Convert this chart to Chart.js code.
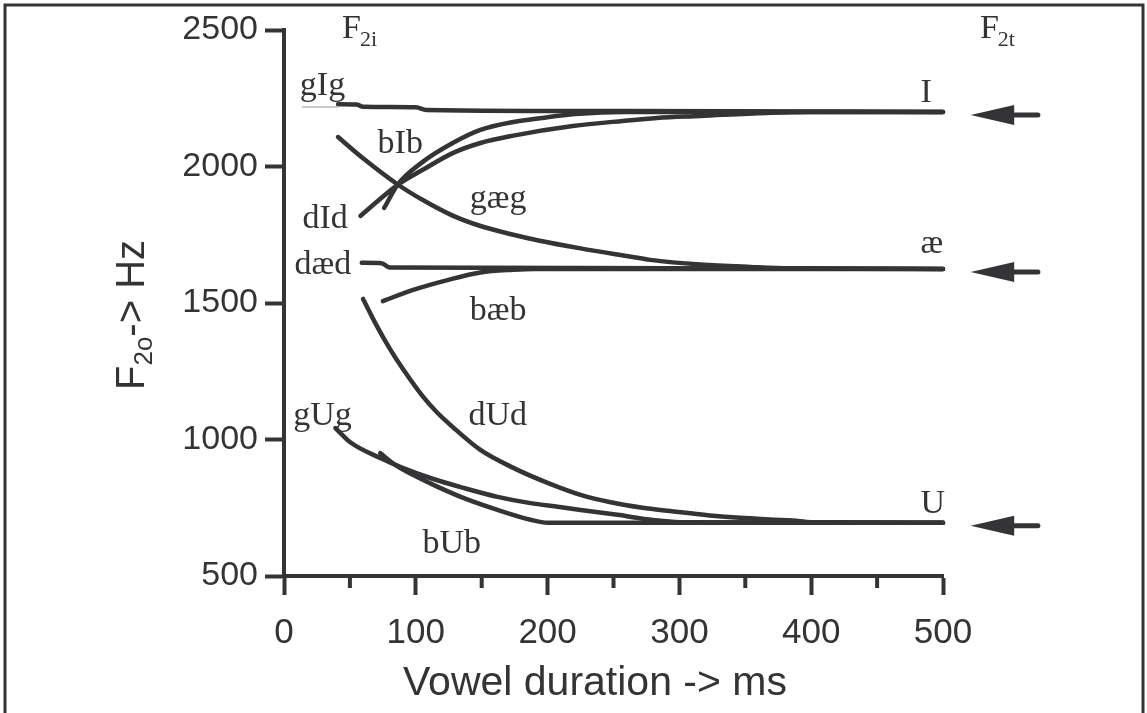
<!DOCTYPE html>
<html>
<head>
<meta charset="utf-8">
<script src="https://cdn.jsdelivr.net/npm/chart.js@4.4.1/dist/chart.umd.min.js"></script>
<style>
  html, body { margin: 0; padding: 0; background: #fff; }
  #wrap { width: 1147px; height: 713px; }
</style>
</head>
<body>
<div id="wrap"><canvas id="grafico" width="1147" height="713"></canvas></div>
<script>
// ===== DATA (ms -> Hz) =====
const xTicks = [0, 100, 200, 300, 400, 500];
const yTicks = [500, 1000, 1500, 2000, 2500];
const minorTicks = [50, 150, 250, 350, 450];
const targets = [2200, 1625, 695]; // F2t of I, æ, U

const gIgLeadMs = [14, 41];
const gIgLeadHz = [2218, 2218];
const gIgMs = [41, 55, 60, 100, 108, 260, 500];
const gIgHz = [2228, 2227, 2219, 2217, 2207, 2203, 2200];
const bIbMs = [76, 86, 105, 128, 149, 174, 196, 221, 259, 500];
const bIbHz = [1848, 1932, 2016, 2086, 2134, 2163, 2178, 2192, 2200, 2200];
const dIdMs = [58, 86, 105, 128, 149, 174, 219, 257, 283, 316, 366, 400, 500];
const dIdHz = [1819, 1932, 1987, 2049, 2086, 2113, 2148, 2167, 2178, 2185, 2196, 2200, 2200];
const gaegMs = [41, 60, 86, 105, 128, 149, 174, 194, 225, 260, 278, 316, 354, 384, 500];
const gaegHz = [2108, 2030, 1935, 1878, 1820, 1782, 1750, 1728, 1700, 1672, 1658, 1641, 1632, 1627, 1625];
const daedMs = [59, 74, 80, 500];
const daedHz = [1647, 1646, 1630, 1625];
const baebMs = [75, 98, 124, 149, 174, 190, 500];
const baebHz = [1507, 1548, 1584, 1612, 1622, 1625, 1625];
const dUdMs = [60, 70, 80, 90, 105, 116, 128, 149, 174, 200, 225, 247, 272, 293, 323, 346, 386, 400, 500];
const dUdHz = [1515, 1420, 1335, 1260, 1160, 1100, 1046, 962, 896, 841, 797, 771, 750, 738, 722, 713, 703, 697, 695];
const gUgMs = [39, 50, 73, 90, 111, 136, 162, 187, 209, 225, 253, 280, 300, 500];
const gUgHz = [1042, 991, 932, 896, 859, 823, 790, 767, 753, 742, 724, 705, 697, 695];
const bUbMs = [73, 85, 100, 115, 136, 162, 187, 200, 500];
const bUbHz = [950, 905, 865, 830, 786, 742, 706, 695, 695];

// label anchors (left, baseline) in ms / Hz
const labelText = ["gIg", "bIb", "dId", "gæg", "dæd", "bæb", "gUg", "dUd", "bUb", "I", "æ", "U"];
const labelMs = [12, 71, 14, 141, 8, 141, 7, 140, 105, 483, 483, 483];
const labelHz = [2262, 2050, 1775, 1848, 1606, 1438, 1053, 1053, 584, 2236, 1683, 731];

const ink = "#343436";

function pares(ms, hz) {
  return ms.map((v, i) => ({ x: v, y: hz[i] }));
}

function serie(nome, ms, hz, cor, largura) {
  return {
    label: nome,
    data: pares(ms, hz),
    borderColor: cor || ink,
    borderWidth: largura || 4.5,
    borderCapStyle: "round",
    borderJoinStyle: "round",
    pointRadius: 0,
    cubicInterpolationMode: "monotone",
    fill: false,
    clip: false
  };
}

// ===== EXTRA DRAWING (frame, minor ticks, arrows, labels, titles) =====
const extras = {
  id: "extras",
  beforeDraw(chart) {
    const c = chart.ctx;
    c.save();
    c.strokeStyle = ink;
    c.lineWidth = 3;
    c.beginPath();
    c.moveTo(5, 720); c.lineTo(5, 5); c.lineTo(1143, 5); c.lineTo(1143, 720);
    c.stroke();
    c.restore();
  },
  afterDraw(chart) {
    const c = chart.ctx, x = chart.scales.x, y = chart.scales.y;
    c.save();
    c.strokeStyle = ink;
    c.fillStyle = ink;

    // minor ticks
    c.lineWidth = 4;
    minorTicks.forEach(v => {
      const px = x.getPixelForValue(v);
      c.beginPath();
      c.moveTo(px, y.bottom);
      c.lineTo(px, y.bottom + 12);
      c.stroke();
    });

    // arrows pointing at the targets
    const tip = x.getPixelForValue(521), base = x.getPixelForValue(554), tail = x.getPixelForValue(572);
    targets.forEach(t => {
      const py = y.getPixelForValue(t) + 3;
      c.lineWidth = 5;
      c.lineCap = "round";
      c.beginPath();
      c.moveTo(base - 4, py);
      c.lineTo(tail, py);
      c.stroke();
      c.beginPath();
      c.moveTo(tip, py);
      c.lineTo(base, py - 10);
      c.lineTo(base, py + 10);
      c.closePath();
      c.fill();
    });

    // curve labels
    c.font = "34px 'Liberation Serif'";
    c.textAlign = "left";
    c.textBaseline = "alphabetic";
    labelText.forEach((t, i) => {
      c.fillText(t, x.getPixelForValue(labelMs[i]), y.getPixelForValue(labelHz[i]));
    });

    // F2i / F2t
    [["2i", 44], ["2t", 528]].forEach(([sub, ms]) => {
      const px = x.getPixelForValue(ms), py = y.getPixelForValue(2472);
      c.font = "34px 'Liberation Serif'";
      c.fillText("F", px, py);
      const w = c.measureText("F").width;
      c.font = "22px 'Liberation Serif'";
      c.fillText(sub, px + w - 1, py + 8);
    });

    // axis titles
    c.font = "41px 'Liberation Sans'";
    c.textAlign = "center";
    c.fillText("Vowel duration -> ms", 595, 695);

    c.translate(144, 315);
    c.rotate(-Math.PI / 2);
    c.textAlign = "left";
    c.font = "40px 'Liberation Sans'";
    const wF = c.measureText("F").width;
    const wRest = c.measureText("-> Hz").width;
    c.font = "26px 'Liberation Sans'";
    const wSub = c.measureText("2o").width;
    const start = -(wF + wSub + wRest) / 2;
    c.font = "40px 'Liberation Sans'";
    c.fillText("F", start, 0);
    c.font = "26px 'Liberation Sans'";
    c.fillText("2o", start + wF, 8);
    c.font = "40px 'Liberation Sans'";
    c.fillText("-> Hz", start + wF + wSub, 0);
    c.restore();
  }
};

// ===== CHART =====
new Chart(document.getElementById("grafico"), {
  type: "line",
  data: {
    datasets: [
      serie("gIg lead", gIgLeadMs, gIgLeadHz, "#b8b8b8", 1.5),
      serie("gIg", gIgMs, gIgHz),
      serie("bIb", bIbMs, bIbHz),
      serie("dId", dIdMs, dIdHz),
      serie("gæg", gaegMs, gaegHz),
      serie("dæd", daedMs, daedHz),
      serie("bæb", baebMs, baebHz),
      serie("dUd", dUdMs, dUdHz),
      serie("gUg", gUgMs, gUgHz),
      serie("bUb", bUbMs, bUbHz)
    ]
  },
  options: {
    responsive: false,
    animation: false,
    devicePixelRatio: 1,
    layout: { padding: { top: 30, right: 204, bottom: 0, left: 0 } },
    plugins: { legend: { display: false }, tooltip: { enabled: false } },
    scales: {
      x: {
        type: "linear",
        min: 0,
        max: 500,
        afterFit: s => { s.height = 137; },
        afterBuildTicks: s => { s.ticks = xTicks.map(v => ({ value: v })); },
        ticks: {
          color: ink,
          font: { family: "'Liberation Sans'", size: 35 },
          padding: 17,
          maxRotation: 0,
          callback: v => String(v)
        },
        grid: { drawOnChartArea: false, tickLength: 19, tickWidth: 4, tickColor: ink },
        border: { display: true, width: 4, color: ink }
      },
      y: {
        type: "linear",
        min: 500,
        max: 2500,
        afterFit: s => { s.width = 284; },
        afterBuildTicks: s => { s.ticks = yTicks.map(v => ({ value: v })); },
        ticks: {
          color: ink,
          font: { family: "'Liberation Sans'", size: 34 },
          padding: 7,
          callback: v => String(v)
        },
        grid: { drawOnChartArea: false, tickLength: 19, tickWidth: 4, tickColor: ink },
        border: { display: true, width: 4, color: ink }
      }
    }
  },
  plugins: [extras]
});
</script>
</body>
</html>
